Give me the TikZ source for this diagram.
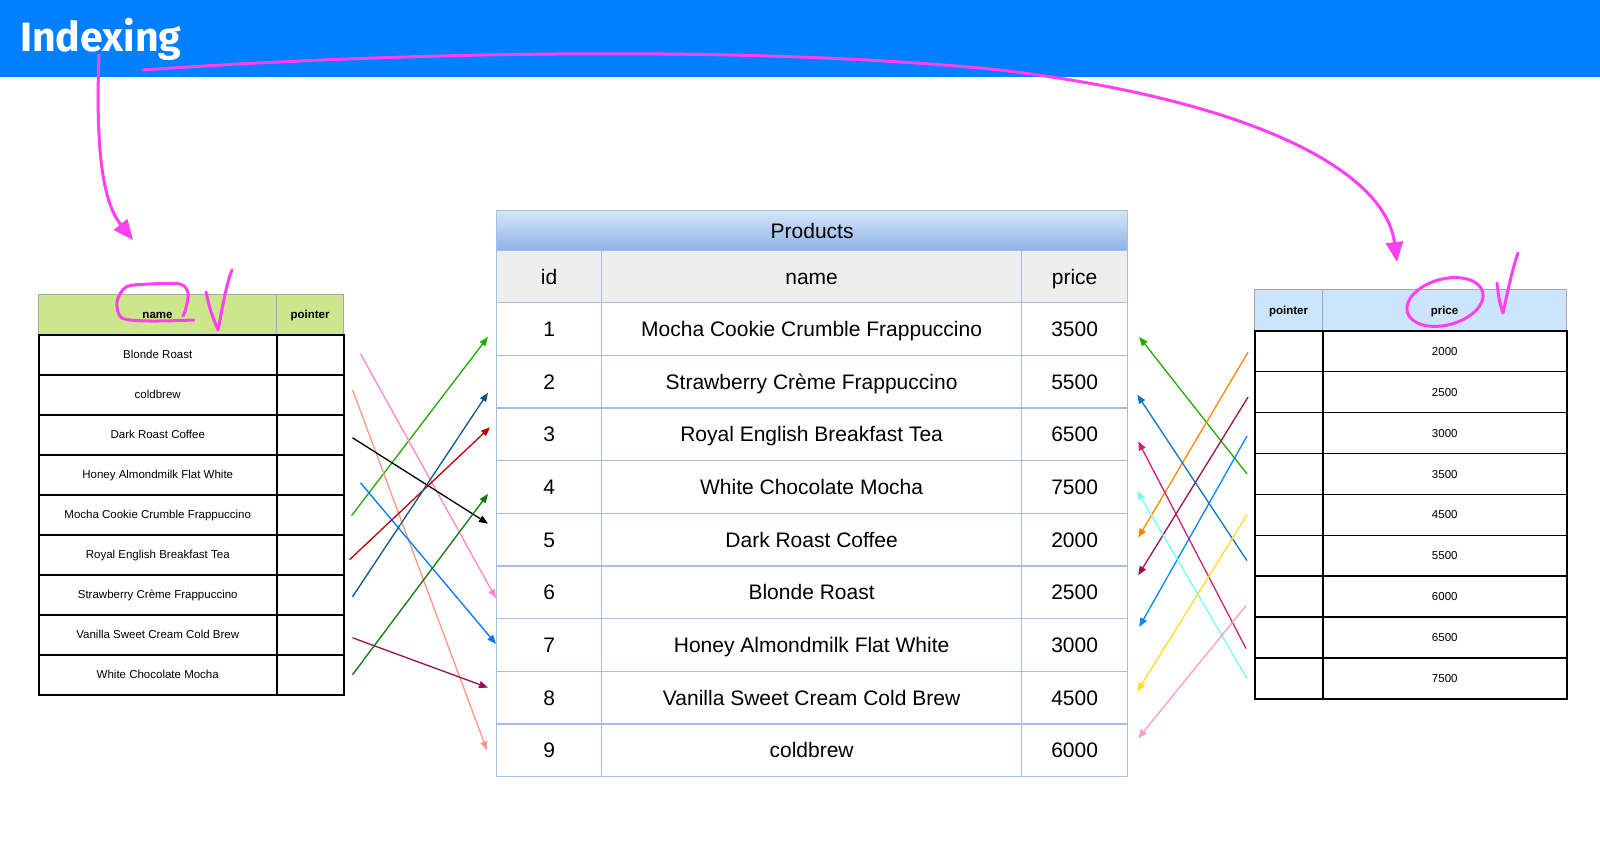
\documentclass[tikz,border=0pt]{standalone}
\usepackage{fontspec}
\setmainfont{Liberation Sans}
\newfontfamily\titlefont{Fira Sans}
\usepackage{xcolor}
\usetikzlibrary{arrows.meta}

\definecolor{bannerblue}{RGB}{0,127,255}
\definecolor{markpink}{RGB}{255,64,240}
\definecolor{gridblue}{RGB}{165,190,228}
\definecolor{headgrey}{RGB}{238,238,238}
\definecolor{namegreen}{RGB}{204,230,140}
\definecolor{priceblue}{RGB}{204,228,252}
\definecolor{titletop}{RGB}{215,230,250}
\definecolor{titlebottom}{RGB}{140,178,232}
% arrow colours
\definecolor{arrGreen}{RGB}{34,170,0}
\definecolor{arrPink}{RGB}{255,136,204}
\definecolor{arrSalmon}{RGB}{255,150,140}
\definecolor{arrBlue}{RGB}{0,119,255}
\definecolor{arrRed}{RGB}{187,0,0}
\definecolor{arrNavy}{RGB}{17,85,136}
\definecolor{arrPlum}{RGB}{153,17,85}
\definecolor{arrForest}{RGB}{17,119,17}
\definecolor{arrOrange}{RGB}{255,136,0}
\definecolor{arrSky}{RGB}{0,136,255}
\definecolor{arrSteel}{RGB}{17,119,187}
\definecolor{arrRose}{RGB}{204,34,119}
\definecolor{arrCyan}{RGB}{119,255,238}
\definecolor{arrYellow}{RGB}{255,221,34}
\definecolor{arrLight}{RGB}{255,153,204}

\tikzset{
  cell/.style={draw, inner sep=0pt, anchor=north west, text depth=0pt},
  pcell/.style={cell, draw=gridblue, line width=1.2pt, text height=15pt, font=\fontsize{21}{25}\selectfont},
  icell/.style={cell, draw=black, line width=1.5pt, text height=8.2pt, font=\fontsize{11.5}{14}\selectfont},
  ihead/.style={cell, draw=gray!70, line width=1pt, text height=8.2pt, font=\bfseries\fontsize{11.5}{14}\selectfont},
  ptr/.style={-{Triangle[length=9pt,width=7pt]}, line width=1.3pt},
  scribble/.style={draw=markpink, line width=3pt, line cap=round, line join=round}
}

\begin{document}
\begin{tikzpicture}[x=1pt,y=-1pt]
\useasboundingbox (0,0) rectangle (1600,850);
\fill[white] (0,0) rectangle (1600,850);

% banner
\fill[bannerblue] (0,0) rectangle (1600,77);
\node[anchor=base west, inner sep=0pt, text=white, font=\titlefont\bfseries\fontsize{41}{48}\selectfont] (title) at (20,52) {Indexing};

% Products table
\node[pcell, minimum width=631pt, minimum height=40pt, top color=titletop, bottom color=titlebottom] (ptitle) at (496,210) {Products};
\node[pcell, fill=headgrey, minimum width=105pt, minimum height=52pt] (hid) at (496,250) {id};
\node[pcell, fill=headgrey, minimum width=420pt, minimum height=52pt] (hname) at (601,250) {name};
\node[pcell, fill=headgrey, minimum width=106pt, minimum height=52pt] (hprice) at (1021,250) {price};
\foreach \i/\nm/\pr in {1/Mocha Cookie Crumble Frappuccino/3500, 2/Strawberry Crème Frappuccino/5500,
  3/Royal English Breakfast Tea/6500, 4/White Chocolate Mocha/7500, 5/Dark Roast Coffee/2000,
  6/Blonde Roast/2500, 7/Honey Almondmilk Flat White/3000, 8/Vanilla Sweet Cream Cold Brew/4500,
  9/coldbrew/6000} {
  \pgfmathsetmacro\y{302+(\i-1)*52.67}
  \node[pcell, minimum width=105pt, minimum height=52.67pt] (pid\i) at (496,\y) {\i};
  \node[pcell, minimum width=420pt, minimum height=52.67pt] (pname\i) at (601,\y) {\nm};
  \node[pcell, minimum width=106pt, minimum height=52.67pt] (pprice\i) at (1021,\y) {\pr};
}

% name index
\node[ihead, fill=namegreen, minimum width=238pt, minimum height=40pt] (lhname) at (38,294) {name};
\node[ihead, fill=namegreen, minimum width=67pt, minimum height=40pt] (lhptr) at (276,294) {pointer};
\foreach \i/\nm in {1/Blonde Roast, 2/coldbrew, 3/Dark Roast Coffee, 4/Honey Almondmilk Flat White,
  5/Mocha Cookie Crumble Frappuccino, 6/Royal English Breakfast Tea, 7/Strawberry Crème Frappuccino,
  8/Vanilla Sweet Cream Cold Brew, 9/White Chocolate Mocha} {
  \pgfmathsetmacro\y{334+(\i-1)*40}
  \node[icell, minimum width=238pt, minimum height=40pt] (lname\i) at (38,\y) {\nm};
  \node[icell, minimum width=67pt, minimum height=40pt] (lptr\i) at (276,\y) {};
}

% price index
\node[ihead, fill=priceblue, minimum width=68pt, minimum height=41pt] (rhptr) at (1254,289) {pointer};
\node[ihead, fill=priceblue, minimum width=244pt, minimum height=41pt] (rhprice) at (1322,289) {price};
\foreach \i/\pr in {1/2000, 2/2500, 3/3000, 4/3500, 5/4500, 6/5500, 7/6000, 8/6500, 9/7500} {
  \pgfmathsetmacro\y{330+(\i-1)*40.9}
  \node[icell, minimum width=68pt, minimum height=40.9pt] (rptr\i) at (1254,\y) {};
  \node[icell, minimum width=244pt, minimum height=40.9pt] (rprice\i) at (1322,\y) {\pr};
}

% pointers from the name index
\foreach \a/\b/\c/\sa/\sb/\ea/\eb in {5/1/arrGreen/7/-1/-8/-8, 1/6/arrPink/16/1/0/-6,
  2/9/arrSalmon/8/5/-9/0, 3/5/black/8/-3/-8/16, 4/7/arrBlue/16/-8/0/1, 6/3/arrRed/5/-5/-6/7,
  7/2/arrNavy/8/-2/-8/-11, 8/8/arrPlum/8/-3/-8/10, 9/4/arrForest/8/0/-8/-7}
  \draw[ptr, color=\c] ([xshift=\sa pt,yshift=\sb pt]lptr\a.east) -- ([xshift=\ea pt,yshift=\eb pt]pid\b.west);

% pointers from the price index
\foreach \a/\b/\c/\sa/\sb/\ea/\eb in {4/1/arrGreen/-7/0/11/-8, 1/5/arrOrange/-6/-1/10/2,
  2/6/arrPlum/-6/-5/10/17, 3/7/arrSky/-7/-3/11/18, 6/2/arrSteel/-7/-5/9/-13, 8/3/arrRose/-8/-11/10/-7,
  9/4/arrCyan/-7/0/9/-4, 5/8/arrYellow/-7/0/9/6, 7/9/arrLight/-8/-9/10/12}
  \draw[ptr, color=\c] ([xshift=\sa pt,yshift=\sb pt]rptr\a.west) -- ([xshift=\ea pt,yshift=\eb pt]pprice\b.east);

% hand-drawn marks
\draw[scribble, -{Triangle[length=20pt,width=17pt]}] (99,55) .. controls (95,160) and (105,205) .. (133,240);
\draw[scribble, -{Triangle[length=20pt,width=17pt]}] (143,70) .. controls (400,52) and (750,45) .. (1000,70)
  .. controls (1250,100) and (1385,170) .. (1397,262);
\draw[scribble] plot[smooth] coordinates {(194,320) (150,321) (122,318) (117,302) (126,287) (150,284)
  (180,284) (188,293) (186,308) (183,316)};
\draw[scribble] (206,292) .. controls (210,310) .. (218,330) .. controls (222,310) and (226,285) .. (232,270);
\draw[scribble] (1445,302) ellipse [x radius=39, y radius=23, rotate=15];
\draw[scribble] (1497,283) .. controls (1499,300) .. (1503,313) .. controls (1508,290) and (1512,270) .. (1518,253);
\end{tikzpicture}
\end{document}
